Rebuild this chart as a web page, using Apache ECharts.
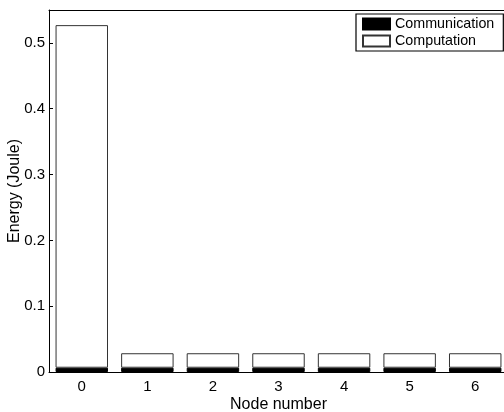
<!DOCTYPE html>
<html><head><meta charset="utf-8">
<script src="https://cdn.jsdelivr.net/npm/echarts@6/dist/echarts.min.js"></script>
<style>html,body{margin:0;padding:0;background:#fff}#c{width:504px;height:412px}</style>
</head><body><div id="c"></div>
<script>
const categories = ['0','1','2','3','4','5','6'];
const communication = [0.0065,0.0065,0.0065,0.0065,0.0065,0.0065,0.0065];
const computation = [0.5205,0.022,0.022,0.022,0.022,0.022,0.022];
const yTicks = [0,0.1,0.2,0.3,0.4,0.5];

const FONT = '"Liberation Sans", Arial, Helvetica, sans-serif';
const chart = echarts.init(document.getElementById('c'), null, {renderer:'canvas'});
chart.setOption({
  animation:false,
  backgroundColor:'#fff',
  textStyle:{fontFamily:FONT, color:'#000'},
  grid:{left:49, top:10, width:459, height:362, containLabel:false, outerBoundsMode:'none'},
  legend:{
    left:356, top:14, orient:'vertical', itemWidth:27, itemHeight:11, itemGap:1, icon:'rect',
    padding:[2,9,2,6], borderColor:'#000', borderWidth:1.2, backgroundColor:'#fff',
    textStyle:{fontFamily:FONT, fontSize:14.3, color:'#000', lineHeight:16},
    data:['Communication','Computation']
  },
  xAxis:[{
    type:'category', data:categories, position:'bottom',
    name:'Node number', nameLocation:'middle', nameGap:25, nameMoveOverlap:false,
    nameTextStyle:{fontFamily:FONT, fontSize:16, color:'#000'},
    axisLine:{onZero:false, lineStyle:{color:'#000', width:1}},
    axisTick:{inside:true, alignWithLabel:true, length:4, lineStyle:{color:'#000'}},
    axisLabel:{fontFamily:FONT, fontSize:15, color:'#000', margin:7},
    splitLine:{show:false}
  },{
    type:'category', data:categories, position:'top',
    axisLine:{onZero:false, lineStyle:{color:'#000', width:1}},
    axisTick:{inside:true, alignWithLabel:true, length:4, lineStyle:{color:'#000'}},
    axisLabel:{show:false}, splitLine:{show:false}
  }],
  yAxis:[{
    type:'value', min:0, max:0.55, interval:0.1, position:'left',
    name:'Energy (Joule)', nameLocation:'middle', nameGap:26, nameMoveOverlap:false,
    nameTextStyle:{fontFamily:FONT, fontSize:16, color:'#000'},
    axisLine:{show:true, onZero:false, lineStyle:{color:'#000', width:1}},
    axisTick:{show:true, inside:true, length:4, lineStyle:{color:'#000'}},
    axisLabel:{fontFamily:FONT, fontSize:15, color:'#000', margin:4, showMaxLabel:false,
      formatter:v=> yTicks.some(t=>Math.abs(t-v)<1e-9) ? String(+v.toFixed(2)) : ''},
    splitLine:{show:false}
  },{
    type:'value', min:0, max:0.55, interval:0.1, position:'right',
    axisLine:{show:true, onZero:false, lineStyle:{color:'#000'}},
    axisTick:{show:true, inside:true, length:4, lineStyle:{color:'#000'}},
    axisLabel:{show:false}, splitLine:{show:false}
  }],
  series:[{
    name:'Communication', type:'bar', stack:'e', barWidth:'80%', data:communication,
    itemStyle:{color:'#000', borderColor:'#000', borderWidth:1}
  },{
    name:'Computation', type:'bar', stack:'e', barWidth:'80%', data:computation,
    itemStyle:{color:'#fff', borderColor:'#333', borderWidth:1}
  }]
});
</script></body></html>
